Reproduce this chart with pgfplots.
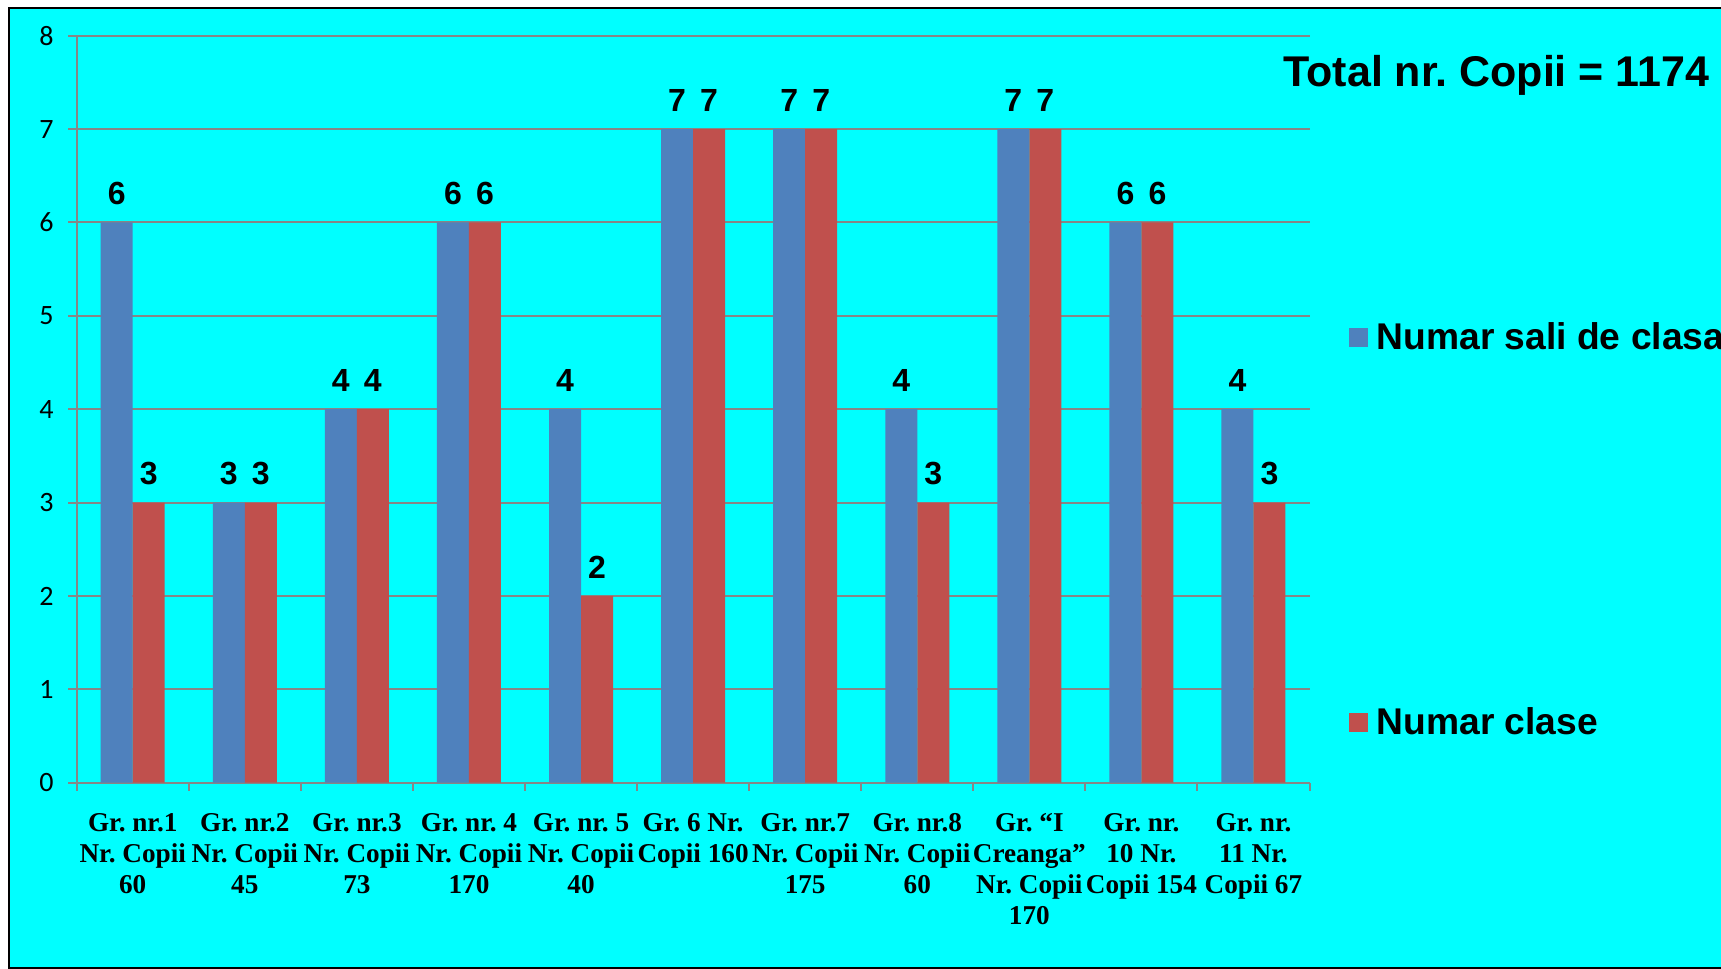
\documentclass[border=0pt]{standalone}
\usepackage{pgfplots}
\pgfplotsset{compat=1.18}
\usepackage{fontspec}
\setmainfont{Liberation Sans}
\newfontfamily\tnr{Liberation Serif}
\newfontfamily\calibri{Carlito}
\definecolor{bgcyan}{HTML}{00FFFF}
\definecolor{barblue}{HTML}{4F81BD}
\definecolor{barred}{HTML}{C0504D}
\definecolor{gridgray}{HTML}{868686}
\begin{document}
\frenchspacing
\begin{tikzpicture}
\clip (0bp,0bp) rectangle (860.5bp,484.5bp);
\fill[white] (0bp,0bp) rectangle (860.5bp,484.5bp);
\fill[bgcyan] (4.5bp,0.5bp) rectangle (880bp,480.5bp);
\draw[black, line width=1.2bp] (4.5bp,0.5bp) rectangle (880bp,480.5bp);
\begin{axis}[
  at={(38.35bp,93.15bp)}, anchor=south west,
  scale only axis, width=616.4bp, height=373.5bp,
  xmin=-0.5, xmax=10.5, ymin=0, ymax=8,
  ybar=0pt, bar width=16bp,
  axis x line=bottom, axis y line=left,
  axis line style={gridgray, line width=1bp, -},
  ymajorgrids, grid style={gridgray, line width=1bp},
  ytick={0,...,8},
  ytick style={gridgray, line width=1bp},
  tick align=outside, major tick length=4.3bp,
  /pgf/number format/assume math mode=true,
  yticklabel style={font=\calibri\fontsize{14bp}{16bp}\selectfont, anchor=east, xshift=-3.8bp},
  xtick={0,...,10},
  xtick style={draw=none},
  xticklabels={{Gr. nr.1\\Nr. Copii\\60},{Gr. nr.2\\Nr. Copii\\45},{Gr. nr.3\\Nr. Copii\\73},{Gr. nr. 4\\Nr. Copii\\170},{Gr. nr. 5\\Nr. Copii\\40},{Gr. 6 Nr.\\Copii 160},{Gr. nr.7\\Nr. Copii\\175},{Gr. nr.8\\Nr. Copii\\60},{Gr. “I\\Creanga”\\Nr. Copii\\170},{Gr. nr.\\10 Nr.\\Copii 154},{Gr. nr.\\11 Nr.\\Copii 67}},
  xticklabel style={align=center, font=\tnr\bfseries\fontsize{13.6bp}{15.4bp}\selectfont, anchor=north, yshift=-7.7bp},
  extra x ticks={-0.5,0.5,...,10.5},
  extra x tick labels={},
  extra x tick style={xtick style={draw=gridgray, line width=1bp}, major tick length=4bp, grid=none},
  nodes near coords,
  every node near coord/.append style={font=\bfseries\fontsize{16bp}{19bp}\selectfont, black, yshift=5.3bp},
  legend style={at={(axis description cs:1.032,0.338)}, anchor=west, draw=none, fill=none,
    font=\bfseries\fontsize{18.6bp}{21bp}\selectfont, row sep=173.8bp, inner sep=0pt},
  legend cell align=left,
  every axis plot post/.append style={legend image code/.code={\fill[##1] (0bp,-4.75bp) rectangle (9.5bp,4.75bp);}},
]
\addplot[fill=barblue, draw=none] coordinates {(0,6) (1,3) (2,4) (3,6) (4,4) (5,7) (6,7) (7,4) (8,7) (9,6) (10,4)};
\addplot[fill=barred, draw=none] coordinates {(0,3) (1,3) (2,4) (3,6) (4,2) (5,7) (6,7) (7,3) (8,7) (9,6) (10,3)};
\legend{\hspace{2.2bp}Numar sali de clasa, \hspace{2.2bp}Numar clase}
\end{axis}
\node[anchor=base west, font=\bfseries\fontsize{21.5bp}{24bp}\selectfont, inner sep=0pt] at (641.5bp,441.15bp) {Total nr. Copii = 1174};
\end{tikzpicture}
\end{document}
